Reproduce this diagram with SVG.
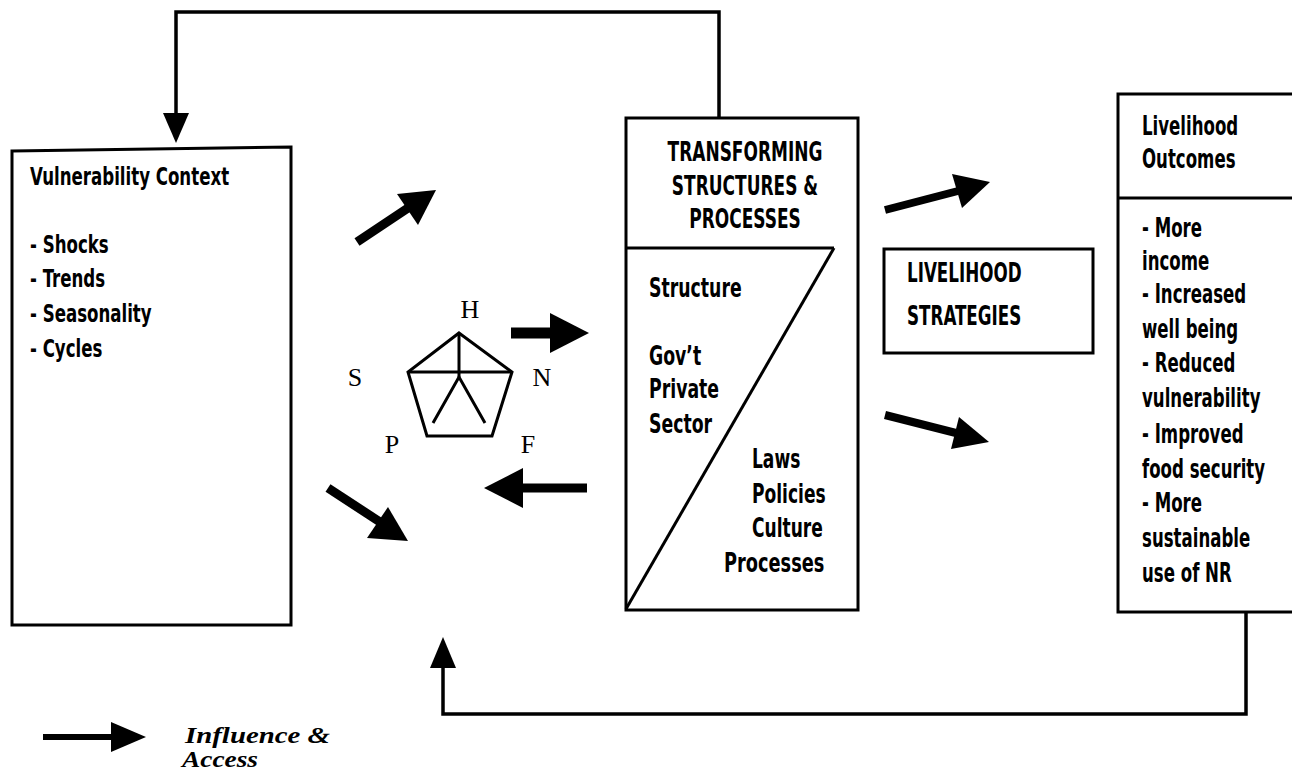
<svg xmlns="http://www.w3.org/2000/svg" width="1292" height="773" viewBox="0 0 1292 773">
  <style>
    .box { fill: #fff; stroke: #000; stroke-width: 3; }
    .line { fill: none; stroke: #000; stroke-width: 3; }
    .flow { fill: none; stroke: #000; stroke-width: 3.5; stroke-linejoin: miter; }
    .shaft { fill: none; stroke: #000; stroke-width: 9; }
    .head { fill: #000; stroke: none; }
    .t { font-family: "Liberation Sans Narrow", "DejaVu Sans Condensed", sans-serif; font-weight: bold; font-size: 26px; fill: #000; }
    .vc { font-size: 24px; }
    .title { font-size: 27px; }
    .cap { font-family: "Liberation Serif", "Times New Roman", serif; font-size: 26px; fill: #000; }
    .legend { font-family: "Liberation Serif", "Times New Roman", serif; font-weight: bold; font-style: italic; font-size: 24px; fill: #000; }
  </style>

  <rect width="1292" height="773" fill="#fff"/>

  <!-- connectors -->
  <g id="connectors">
    <!-- feedback loop from transforming structures back to vulnerability context -->
    <polyline class="flow" points="719,117 719,12 176,12 176,116"/>
    <polygon class="head" points="163,113 189,113 176,143"/>
    <!-- feedback loop from outcomes back to assets -->
    <polyline class="flow" points="1246,612 1246,714 443,714 443,665"/>
    <polygon class="head" points="430,668 456,668 443,637"/>

    <!-- vulnerability context to assets (upper) -->
    <line class="shaft" x1="357" y1="242" x2="408" y2="208"/>
    <polygon class="head" points="436,190 397,194 418,225"/>
    <!-- vulnerability context to assets (lower) -->
    <line class="shaft" x1="328" y1="488" x2="380" y2="522"/>
    <polygon class="head" points="408,541 388,507 367,538"/>
    <!-- assets to transforming structures -->
    <line class="shaft" x1="511" y1="333" x2="553" y2="333" style="stroke-width:11"/>
    <polygon class="head" points="550,313 589,333 550,353"/>
    <!-- transforming structures to assets -->
    <line class="shaft" x1="520" y1="488" x2="587" y2="488"/>
    <polygon class="head" points="484,488 523,468 523,508"/>
    <!-- to livelihood strategies / outcomes -->
    <line class="shaft" x1="885" y1="210" x2="958" y2="191" style="stroke-width:8"/>
    <polygon class="head" points="990,182 952,174 962,208"/>
    <line class="shaft" x1="885" y1="415" x2="956" y2="433" style="stroke-width:8"/>
    <polygon class="head" points="989,442 959,417 951,449"/>
  </g>

  <!-- vulnerability context -->
  <g id="vulnerability">
    <polygon class="box" points="12,151 291,147 291,625 12,625"/>
    <g transform="translate(30,0) scale(0.77,1)">
      <text class="t vc" x="0" y="185">Vulnerability Context</text>
      <text class="t vc" x="0" y="253">- Shocks</text>
      <text class="t vc" x="0" y="287">- Trends</text>
      <text class="t vc" x="0" y="322">- Seasonality</text>
      <text class="t vc" x="0" y="357">- Cycles</text>
    </g>
  </g>

  <!-- livelihood assets pentagon -->
  <g id="assets">
    <polygon class="line" points="459,333 512,372 492,436 427,436 408,372"/>
    <line class="line" x1="408" y1="372" x2="512" y2="372"/>
    <line class="line" x1="459" y1="333" x2="459" y2="377"/>
    <polyline class="line" points="433,423 459,377 485,423"/>
    <text class="cap" x="470" y="318" text-anchor="middle">H</text>
    <text class="cap" x="355" y="386" text-anchor="middle">S</text>
    <text class="cap" x="542" y="386" text-anchor="middle">N</text>
    <text class="cap" x="392" y="453" text-anchor="middle">P</text>
    <text class="cap" x="528" y="453" text-anchor="middle">F</text>
  </g>

  <!-- transforming structures and processes -->
  <g id="transforming">
    <rect class="box" x="626" y="118" width="232" height="492"/>
    <line class="line" x1="626" y1="248" x2="834" y2="248"/>
    <line class="line" x1="834" y1="248" x2="626" y2="609"/>
    <g transform="translate(745,0) scale(0.7,1)">
      <text class="t title" x="0" y="161" text-anchor="middle">TRANSFORMING</text>
      <text class="t title" x="0" y="195" text-anchor="middle">STRUCTURES &amp;</text>
      <text class="t title" x="0" y="228" text-anchor="middle">PROCESSES</text>
    </g>
    <g transform="translate(649,0) scale(0.74,1)">
      <text class="t" x="0" y="297">Structure</text>
      <text class="t" x="0" y="365">Gov’t</text>
      <text class="t" x="0" y="398">Private</text>
      <text class="t" x="0" y="433">Sector</text>
    </g>
    <g transform="translate(752,0) scale(0.73,1)">
      <text class="t" x="0" y="468">Laws</text>
      <text class="t" x="0" y="503">Policies</text>
      <text class="t" x="0" y="537">Culture</text>
    </g>
    <g transform="translate(724,0) scale(0.76,1)">
      <text class="t" x="0" y="572">Processes</text>
    </g>
  </g>

  <!-- livelihood strategies -->
  <g id="strategies">
    <rect class="box" x="884" y="249" width="209" height="104"/>
    <g transform="translate(907,0) scale(0.69,1)">
      <text class="t title" x="0" y="282">LIVELIHOOD</text>
      <text class="t title" x="0" y="325">STRATEGIES</text>
    </g>
  </g>

  <!-- livelihood outcomes -->
  <g id="outcomes">
    <rect class="box" x="1118" y="94" width="190" height="518"/>
    <line class="line" x1="1118" y1="198" x2="1292" y2="198"/>
    <g transform="translate(1142,0) scale(0.71,1)">
      <text class="t" x="0" y="135">Livelihood</text>
      <text class="t" x="0" y="168">Outcomes</text>
      <text class="t" x="0" y="237">- More</text>
      <text class="t" x="0" y="270">income</text>
      <text class="t" x="0" y="303">- Increased</text>
      <text class="t" x="0" y="338">well being</text>
      <text class="t" x="0" y="372">- Reduced</text>
      <text class="t" x="0" y="407">vulnerability</text>
      <text class="t" x="0" y="443">- Improved</text>
      <text class="t" x="0" y="478">food security</text>
      <text class="t" x="0" y="512">- More</text>
      <text class="t" x="0" y="547">sustainable</text>
      <text class="t" x="0" y="582">use of NR</text>
    </g>
  </g>

  <!-- legend -->
  <g id="legend">
    <line class="shaft" x1="43" y1="737" x2="114" y2="737" style="stroke-width:6"/>
    <polygon class="head" points="111,722 146,737 111,752"/>
    <text class="legend" x="185" y="743" textLength="145" lengthAdjust="spacingAndGlyphs">Influence &amp;</text>
    <text class="legend" x="182" y="767" textLength="76" lengthAdjust="spacingAndGlyphs">Access</text>
  </g>
</svg>
